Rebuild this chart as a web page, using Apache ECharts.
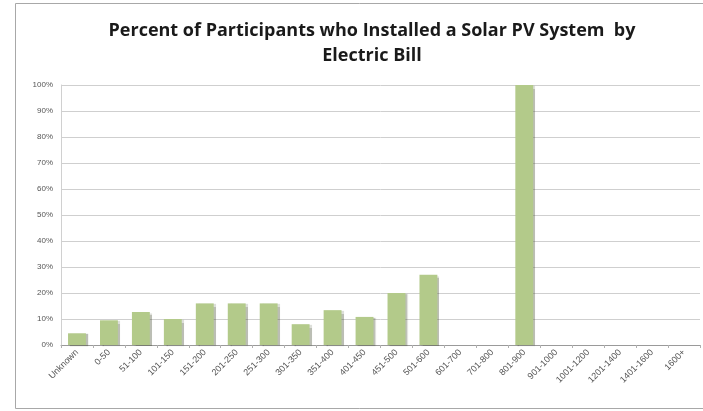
<!DOCTYPE html>
<html>
<head>
<meta charset="utf-8">
<script src="https://cdn.jsdelivr.net/npm/echarts@6/dist/echarts.min.js"></script>
<style>
html,body{margin:0;padding:0;background:#fff;}
#main{width:703px;height:411px;}
</style>
</head>
<body>
<div id="main"></div>
<script>
var categories = ['Unknown','0-50','51-100','101-150','151-200','201-250','251-300','301-350','351-400','401-450',
	'451-500','501-600','601-700','701-800','801-900','901-1000','1001-1200','1201-1400','1401-1600','1600+'];
var percents = [4.5, 9.5, 12.7, 10, 16, 16, 16, 8, 13.4, 10.8, 20, 27, 0, 0, 100, 0, 0, 0, 0, 0];
var yTicks = [0, 10, 20, 30, 40, 50, 60, 70, 80, 90, 100];

var myChart = echarts.init(document.getElementById('main'));
var option = {
	backgroundColor: '#fff',
	animation: false,
	title: {
		text: 'Percent of Participants who Installed a Solar PV System  by\nElectric Bill',
		left: 367,
		top: 13,
		textAlign: 'center',
		textStyle: {
			fontFamily: 'Open Sans',
			fontSize: 18,
			fontWeight: 'bold',
			color: '#1a1a1a',
			lineHeight: 25
		}
	},
	graphic: [{
		type: 'rect',
		shape: {x: 15.5, y: 3.5, width: 700, height: 405},
		style: {fill: 'none', stroke: '#a8a8a8', lineWidth: 1},
		silent: true
	}],
	grid: {left: 61, right: 3, top: 85, bottom: 66},
	xAxis: {
		type: 'category',
		data: categories,
		axisLine: {lineStyle: {color: '#9a9a9a'}},
		axisTick: {show: true, length: 3, lineStyle: {color: '#b0b0b0'}},
		axisLabel: {
			interval: 0,
			rotate: 45,
			fontSize: 9,
			color: '#555',
			fontFamily: 'Liberation Sans',
			margin: 6
		}
	},
	yAxis: {
		type: 'value',
		min: 0,
		max: 100,
		interval: 10,
		axisLine: {show: true, lineStyle: {color: '#d0d0d0'}},
		axisTick: {show: false},
		splitLine: {lineStyle: {color: '#cfcfcf', width: 1}},
		axisLabel: {
			fontSize: 8,
			color: '#555',
			fontFamily: 'Liberation Sans',
			margin: 8,
			formatter: function (v) {
				return yTicks.indexOf(v) >= 0 ? v + '%' : '';
			}
		}
	},
	series: [{
		name: 'Percent',
		type: 'bar',
		data: percents,
		barWidth: '56%',
		itemStyle: {
			color: '#b3ca8a',
			shadowColor: 'rgba(60,70,40,0.35)',
			shadowOffsetX: 2,
			shadowOffsetY: 1,
			shadowBlur: 1
		}
	}]
};
myChart.setOption(option);
</script>
</body>
</html>
